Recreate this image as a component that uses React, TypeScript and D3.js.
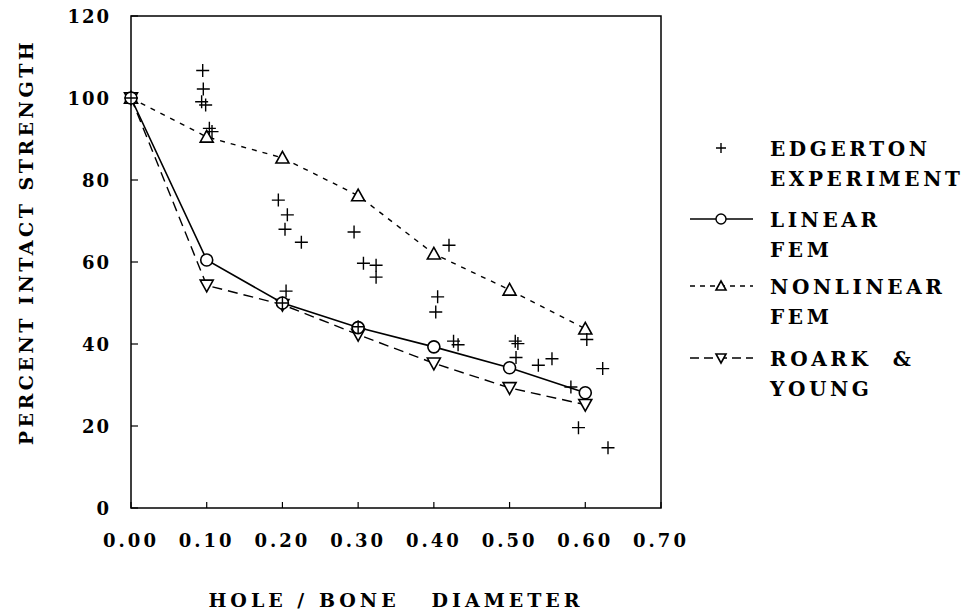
import React from 'react';
import * as d3 from 'd3';

const xTicks = [0, 0.1, 0.2, 0.3, 0.4, 0.5, 0.6, 0.7];
const yTicks = [0, 20, 40, 60, 80, 100, 120];
const modelX = [0, 0.1, 0.2, 0.3, 0.4, 0.5, 0.6];
const linearFem = [100, 60.5, 50, 44, 39.3, 34.2, 28.1];
const nonlinearFem = [100, 90.5, 85.4, 76.2, 62, 53.2, 43.7];
const roarkYoung = [100, 54.3, 49.6, 42.3, 35.3, 29.3, 25.2];
const edgertonX = [0, 0.0947, 0.0955, 0.0933, 0.0986, 0.1035, 0.107, 0.1946, 0.2065, 0.2034, 0.225, 0.2048, 0.2, 0.2946, 0.307, 0.3237, 0.3237, 0.3, 0.42, 0.405, 0.4025, 0.426, 0.432, 0.5075, 0.511, 0.5085, 0.538, 0.556, 0.581, 0.602, 0.623, 0.591, 0.63];
const edgertonY = [100, 106.7, 102.2, 99.1, 98.3, 92.6, 91.8, 75.1, 71.5, 68, 64.8, 52.9, 50, 67.3, 59.7, 59.2, 56.3, 44.2, 64.1, 51.5, 47.8, 40.7, 39.8, 40.7, 40.1, 36.7, 34.8, 36.4, 29.5, 41.1, 34, 19.6, 14.7];
const legendLabels = [["EDGERTON", "EXPERIMENT"], ["LINEAR", "FEM"], ["NONLINEAR", "FEM"], ["ROARK  &", "YOUNG"]];
const xTitle = "HOLE / BONE   DIAMETER";
const yTitle = "PERCENT INTACT STRENGTH";

const FONT = "'DejaVu Serif', serif";

const x = d3.scaleLinear().domain([0, 0.7]).range([131, 661]);
const y = d3.scaleLinear().domain([0, 120]).range([508, 16]);

function Plus({ cx, cy, s = 6.5 }: { cx: number; cy: number; s?: number }) {
  return <path d={`M${cx - s},${cy}H${cx + s}M${cx},${cy - s}V${cy + s}`} stroke="#000" strokeWidth={1.4} fill="none" />;
}
function Tri({ cx, cy, up, s = 6.5 }: { cx: number; cy: number; up: boolean; s?: number }) {
  const d = up
    ? `M${cx},${cy - s}L${cx + s},${cy + s * 0.8}L${cx - s},${cy + s * 0.8}Z`
    : `M${cx},${cy + s}L${cx + s},${cy - s * 0.8}L${cx - s},${cy - s * 0.8}Z`;
  return <path d={d} stroke="#000" strokeWidth={1.6} fill="#fff" />;
}

export default function App() {
  const line = d3.line<number>().x((_, i) => x(modelX[i])).y((v) => y(v));
  const legendRows = [148, 219, 286, 358];
  const lx0 = 690, lx1 = 753, lxm = 721, tx = 770;
  return (
    <svg width={968} height={613} style={{ position: 'absolute', left: 0, top: 0, background: '#fff' }} fontFamily={FONT} fontWeight="bold">
      <rect x={0} y={0} width={968} height={613} fill="#fff" />
      <rect x={x(0)} y={y(120)} width={x(0.7) - x(0)} height={y(0) - y(120)} fill="none" stroke="#000" strokeWidth={1.5} />
      {xTicks.map((t) => (
        <g key={'xt' + t}>
          <line x1={x(t)} x2={x(t)} y1={y(0)} y2={y(0) - 6} stroke="#000" strokeWidth={1.2} />
          <text x={x(t)} y={547} textAnchor="middle" fontSize={18} letterSpacing={3}>{t.toFixed(2)}</text>
        </g>
      ))}
      {yTicks.map((t) => (
        <g key={'yt' + t}>
          <line x1={x(0)} x2={x(0) + 7} y1={y(t)} y2={y(t)} stroke="#000" strokeWidth={1.2} />
          <text x={111} y={y(t) + 6.5} textAnchor="end" fontSize={18} letterSpacing={2}>{t}</text>
        </g>
      ))}
      <text x={396} y={607} textAnchor="middle" fontSize={19} letterSpacing={4} style={{ whiteSpace: 'pre' }}>{xTitle}</text>
      <text transform="translate(33,242) rotate(-90)" textAnchor="middle" fontSize={19} letterSpacing={3.5}>{yTitle}</text>
      <path d={line(nonlinearFem) || ''} fill="none" stroke="#000" strokeWidth={1.4} strokeDasharray="5,6" />
      <path d={line(roarkYoung) || ''} fill="none" stroke="#000" strokeWidth={1.4} strokeDasharray="10,6" />
      <path d={line(linearFem) || ''} fill="none" stroke="#000" strokeWidth={1.6} />
      {nonlinearFem.map((v, i) => <Tri key={'n' + i} cx={x(modelX[i])} cy={y(v)} up={true} />)}
      {roarkYoung.map((v, i) => <Tri key={'r' + i} cx={x(modelX[i])} cy={y(v)} up={false} />)}
      {linearFem.map((v, i) => <circle key={'l' + i} cx={x(modelX[i])} cy={y(v)} r={6} fill="#fff" stroke="#000" strokeWidth={1.6} />)}
      {edgertonX.map((v, i) => <Plus key={'e' + i} cx={x(v)} cy={y(edgertonY[i])} />)}
      <Plus cx={lxm} cy={legendRows[0]} s={5} />
      <line x1={lx0} x2={lx1} y1={legendRows[1]} y2={legendRows[1]} stroke="#000" strokeWidth={1.6} />
      <circle cx={lxm} cy={legendRows[1]} r={5} fill="#fff" stroke="#000" strokeWidth={1.4} />
      <line x1={lx0} x2={lx1} y1={legendRows[2]} y2={legendRows[2]} stroke="#000" strokeWidth={1.3} strokeDasharray="5,5" />
      <Tri cx={lxm} cy={legendRows[2]} up={true} s={5} />
      <line x1={lx0} x2={lx1} y1={legendRows[3]} y2={legendRows[3]} stroke="#000" strokeWidth={1.3} strokeDasharray="9,5" />
      <Tri cx={lxm} cy={legendRows[3]} up={false} s={5} />
      {legendLabels.map((lines, i) => (
        <g key={'lg' + i}>
          {lines.map((s, j) => (
            <text key={j} x={tx} y={legendRows[i] + 7.5 + j * 30} fontSize={20} letterSpacing={3.6} style={{ whiteSpace: 'pre' }}>{s}</text>
          ))}
        </g>
      ))}
    </svg>
  );
}
